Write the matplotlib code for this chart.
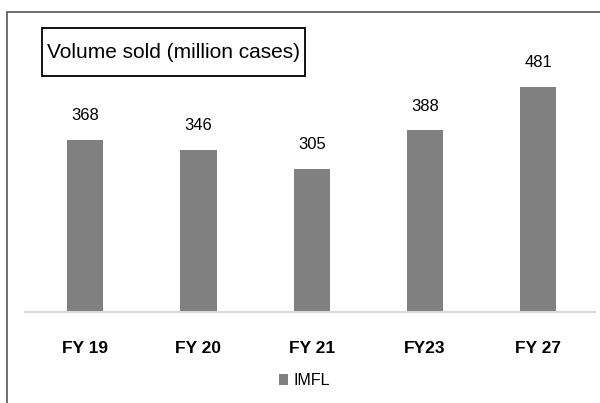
import matplotlib.pyplot as plt
from matplotlib.patches import Rectangle

years = ["FY 19", "FY 20", "FY 21", "FY23", "FY 27"]
volume = [368, 346, 305, 388, 481]

narrow = ["Liberation Sans Narrow", "Liberation Sans", "DejaVu Sans"]

fig = plt.figure(figsize=(6, 4.03), dpi=100)
ax = fig.add_axes([25 / 600, 1 - 312 / 403, 570 / 600, 292 / 403])

x = range(len(years))
bars = ax.bar(x, volume, width=0.32, color="#808080", label="IMFL")
for b, v in zip(bars, volume):
    ax.text(b.get_x() + b.get_width() / 2, v + 36, str(v), ha="center", va="bottom",
            fontsize=12, family=narrow)

ax.set_xlim(-0.53, 4.5)
ax.set_ylim(0, 624)
ax.set_xticks(list(x))
ax.set_xticklabels(years, fontsize=12.5, fontweight="bold", family=narrow)
ax.tick_params(axis="x", length=0, pad=21)
ax.set_yticks([])
for s in ["top", "right", "left"]:
    ax.spines[s].set_visible(False)
ax.spines["bottom"].set_color("#d9d9d9")
ax.spines["bottom"].set_linewidth(1.5)

leg = ax.legend(loc="center", bbox_to_anchor=(0.49, -0.235), frameon=False,
                handlelength=0.6, handleheight=0.6, handletextpad=0.3,
                prop={"family": narrow, "size": 11.5})

# title box
fig.patches.append(Rectangle((42 / 600, 1 - 76 / 403), 263 / 600, 48 / 403, transform=fig.transFigure,
                             fill=True, fc="white", ec="black", lw=1.3))
fig.text(173.5 / 600, 1 - 53 / 403, "Volume sold (million cases)", fontsize=15, family=narrow,
         va="center", ha="center")

fig.patches.append(Rectangle((7 / 600, -0.05), 1.0, 1 - 12 / 403 + 0.05, transform=fig.transFigure,
                             fill=False, ec="#555555", lw=1.2))

fig.savefig("out.png", dpi=100)
